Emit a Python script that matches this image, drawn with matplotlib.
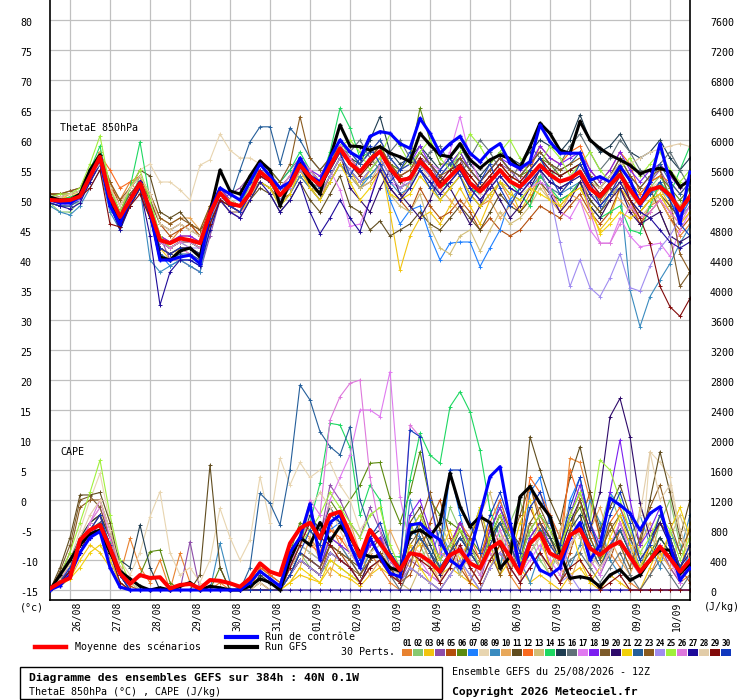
import matplotlib
matplotlib.use("Agg")
import matplotlib.pyplot as plt
from matplotlib.lines import Line2D
from matplotlib.patches import Rectangle
import matplotlib.transforms as mtransforms

plt.rcParams['font.family'] = ['DejaVu Sans Mono', 'DejaVu Sans']

# ---------------- data ----------------
dates = ["26/08", "27/08", "28/08", "29/08", "30/08", "31/08", "01/09", "02/09",
         "03/09", "04/09", "05/09", "06/09", "07/09", "08/09", "09/09", "10/09"]
date_idx = [2, 6, 10, 14, 18, 22, 26, 30, 34, 38, 42, 46, 50, 54, 58, 62]
theta_ticks = [-15, -10, -5, 0, 5, 10, 15, 20, 25, 30, 35, 40, 45, 50, 55, 60, 65, 70, 75, 80]
cape_ticks = [0, 400, 800, 1200, 1600, 2000, 2400, 2800, 3200, 3600, 4000, 4400, 4800,
              5200, 5600, 6000, 6400, 6800, 7200, 7600]

pert_colors = ["#E8822F", "#88C970", "#F2C40F", "#8E4DAA", "#B34E0C", "#5B8A0E", "#1E80FF",
               "#E8D5B0", "#3A8BBF", "#E8A85A", "#604C1E", "#FA6A1E", "#D2BE78", "#1ED862",
               "#1E3C50", "#607078", "#E07AF0", "#7C1EF0", "#7C5A2A", "#2E0A6A", "#F2D00A",
               "#245E9A", "#8A5A1E", "#A08CF0", "#A0F03C", "#DE78DC", "#1E0A9A", "#E2CCA8",
               "#820A0A", "#1038BE"]

theta_mean = [50.0, 49.9, 50.0, 50.6, 53.9, 57.2, 50.6, 47.2, 50.0, 52.8,
              48.3, 43.3, 42.8, 43.6, 43.3, 42.8, 47.8, 51.2, 49.4, 49.0,
              51.1, 54.7, 53.3, 50.8, 52.5, 55.8, 53.9, 52.5, 55.6, 58.6,
              56.1, 54.7, 56.7, 58.1, 55.3, 53.3, 53.6, 56.4, 54.7, 52.2,
              53.9, 55.6, 52.8, 51.4, 53.1, 55.0, 53.1, 52.2, 53.9, 55.8,
              54.2, 53.1, 53.6, 54.7, 51.9, 50.6, 52.5, 54.2, 51.7, 49.4,
              51.7, 52.2, 50.8, 48.3, 50.6]
theta_ctrl = [50, 49.5, 49.5, 50.5, 54, 57, 49, 46, 50, 53,
              48, 40, 40, 40.5, 40.8, 39.4, 48, 52, 51, 50,
              53, 56, 54, 52, 53, 57, 54, 53, 57, 60,
              58, 57, 60.6, 61.4, 61.1, 59.4, 58.6, 63.6, 61.1, 57.8,
              59.4, 60.6, 57.8, 56.4, 58.3, 59.4, 56.1, 55.3, 56.4, 62.5,
              59.7, 57.8, 57.8, 57.8, 53.3, 53.9, 53, 55.6, 53.3, 49.4,
              53, 59.4, 53, 46.1, 54.7]
theta_gfs = [50.5, 50, 50, 51, 55, 57.5, 50, 46, 50, 53,
             48, 40.5, 40, 41.5, 42, 40.5, 48, 55, 51.5, 51,
             54, 56.5, 55, 49, 53, 56, 53, 51, 57, 62.5,
             59, 58.9, 58.3, 58.9, 57.8, 57.2, 56.4, 61.1, 59.2, 57.5,
             57.2, 59.4, 56.7, 55.3, 56.7, 57.5, 56.9, 55.3, 58.9, 62.8,
             61.1, 58.3, 57.8, 63.1, 60, 58.6, 57.5, 56.7, 55.8, 54.4,
             55, 55.3, 54.7, 52.2, 53.3]

th01 = [50, 50, 50.5, 51, 54, 57, 52, 50, 53, 51, 47, 44, 43, 45, 46, 44, 48, 52, 50, 49,
        52, 55, 54, 51, 53, 56, 52, 50, 54, 57, 55, 53, 54, 56, 52, 50, 53, 55, 53, 50,
        52, 54, 51, 49, 50, 53, 50, 48, 50, 54, 52, 51, 53, 54, 50, 48, 51, 54, 50, 46,
        49, 50, 47, 44, 46]
th02 = [49.5, 48, 48, 50, 53, 58, 49, 46, 50, 54, 48, 42, 41, 42, 42, 41, 47, 50, 49, 48,
        52, 56, 54, 50, 52, 57, 55, 53, 56, 60, 57, 56, 58, 59, 55, 53, 52, 57, 56, 53,
        54, 57, 53, 52, 54, 56, 54, 53, 55, 57, 55, 53, 54, 55, 52, 50, 53, 55, 51, 49,
        52, 54, 51, 49, 52]
th03 = [50.5, 50, 51, 51, 55, 58, 51, 47, 50, 52, 48, 42, 40, 42, 41, 40, 46, 50, 48, 48,
        50, 53, 52, 49, 51, 55, 52, 51, 54, 57, 55, 52, 55, 57, 48, 38.3, 44, 47, 48, 46,
        49, 52, 49, 46, 50, 53, 52, 48, 51, 54, 52, 49, 51, 53, 48, 45, 47, 52, 50, 48,
        50, 52, 49, 47, 49]
th04 = [50, 50, 49.5, 50, 53, 56, 51, 48, 51, 53, 49, 44, 40, 40, 39, 38, 44, 50, 51, 52,
        54, 56, 55, 53, 55, 57, 55, 53, 55, 58, 56, 55, 57, 58, 56, 54, 55, 57, 56, 53,
        55, 57, 53, 52, 54, 56, 55, 53, 55, 57, 55, 54, 55, 56, 53, 51, 53, 56, 53, 50,
        53, 55, 52, 47, 50]
th05 = [51, 51, 51, 51.5, 55, 58, 53, 49, 52, 54, 50, 46, 44, 45, 46, 44, 49, 52, 50, 49,
        51, 53, 52, 50, 51, 54, 52, 50, 53, 56, 54, 52, 53, 55, 52, 50, 48, 52, 49, 47,
        48, 50, 48, 45, 47, 45, 44, 45, 47, 49, 48, 47, 49, 51, 48, 46, 48, 52, 49, 46,
        48, 50, 47, 45, 47]
th06 = [50, 49.5, 50, 51, 54, 57, 50, 47, 50, 53, 48, 43, 42, 43, 43, 42, 47, 51, 49, 49,
        51, 55, 53, 51, 53, 56, 54, 53, 56, 59, 57, 55, 57, 59, 56, 55, 57, 65.3, 60, 56,
        56, 58, 55, 53, 55, 57, 55, 54, 55, 57, 56, 54, 55, 56, 53, 52, 54, 56, 53, 51,
        53, 54, 52, 50, 52]
th07 = [49.5, 49, 49, 50, 53, 56, 49, 45.5, 49, 52, 47, 41, 39, 40, 40, 39, 46, 51, 49, 48,
        51, 54, 53, 50, 52, 55, 53, 51, 54, 57, 55, 53, 54, 56, 50, 46, 48.3, 49, 44, 40,
        42.8, 43, 43, 38.9, 42, 45, 50, 52, 53, 55, 53, 52, 53, 55, 51, 50, 52, 54, 51, 49,
        51, 52, 50, 47, 50]
th08 = [50.5, 50.5, 51, 51.5, 55, 57, 52, 49, 52, 55, 56, 53, 53, 51.7, 50, 55.8, 56.7, 61, 58.3, 57,
        57, 56, 55, 52, 54, 57, 55, 54, 56, 58, 56, 54, 56, 57, 54, 52, 53, 56, 53, 51,
        53, 55, 52, 50, 52, 54, 52, 51, 52, 55, 53, 52, 53, 54, 51, 50, 52, 54, 51, 49,
        52, 53, 50, 48, 51]
th09 = [49, 48, 47.5, 49, 52, 55, 48, 45, 49, 52, 40, 38, 39, 40, 39, 38, 45, 50, 48, 47,
        50, 53, 52, 49, 51, 54, 52, 50, 53, 56, 54, 52, 54, 56, 53, 51, 52, 55, 53, 50,
        52, 54, 51, 49, 51, 53, 51, 50, 52, 54, 52, 51, 52, 53, 50, 48, 51, 52, 35, 28.9,
        33.9, 36.7, 39.4, 42.8, 45.6]
th10 = [50, 50, 50.5, 51, 54.5, 58, 53, 50, 51, 53, 51, 47, 46, 47, 47, 45, 49, 52, 50, 49,
        52, 55, 54, 51, 53, 56, 54, 52, 55, 58, 56, 54, 56, 58, 55, 53, 54, 57, 55, 52,
        50, 48, 51, 53, 50, 47, 49, 52, 55, 53, 50, 48, 51, 50, 47, 49, 52, 50, 48, 51,
        53, 50, 47, 49, 51]
th11 = [51, 51, 51.5, 52, 55, 57, 52, 48, 52, 55, 54, 48, 47, 48, 46, 45, 47, 50, 49, 48,
        50, 52, 51, 48, 50, 53, 50, 48, 51, 54, 49, 48, 45, 46.5, 44, 45, 46, 48, 46, 45,
        47, 49, 47, 45, 48, 51, 49, 48, 50, 53, 51, 50, 51, 53, 50, 48, 50, 53, 50, 48,
        50, 51, 49, 47, 49]
th12 = [50, 50, 50.5, 51, 54.5, 57.5, 55, 52, 53, 54, 49, 44, 43, 44, 44, 43, 48, 52, 51, 50,
        52, 55, 54, 52, 54, 57, 55, 53, 56, 59, 57, 55, 57, 59, 56, 54, 55, 57, 55, 53,
        54, 56, 54, 52, 54, 56, 54, 53, 55, 59, 57, 56, 58, 59, 55, 53, 55, 58, 56, 51,
        53, 54, 53, 51, 53]
th13 = [50, 49.5, 50, 50.5, 54, 57, 50, 47, 50, 53, 48, 43, 42, 43, 42, 41, 46, 50, 48, 47,
        50, 54, 53, 50, 52, 55, 53, 51, 54, 57, 54, 52, 53, 56, 51, 49, 48, 51, 45.5, 42,
        41, 44, 45, 41.5, 45, 48, 46, 47, 49, 52, 50, 49, 51, 52, 49, 47, 50, 53, 50, 47,
        49, 51, 48, 46, 48]
th14 = [50, 50, 50.5, 51, 55, 59, 51, 47, 52, 59.7, 50, 44, 42, 43, 43, 42, 47, 51, 50, 49,
        53, 56, 55, 53, 55, 58, 55, 53, 58, 65.3, 62, 57, 58, 59, 55, 53, 54, 57, 55, 52,
        53, 55, 52, 51, 53, 55, 53, 51, 49, 54, 52, 50, 51, 53, 49, 47, 48, 49, 45, 44.5,
        49, 53, 51, 55, 59]
th15 = [50, 50, 50, 51, 54, 57, 50, 46, 50, 53, 48, 43, 42, 43, 43, 42, 47, 51, 49, 49,
        52, 56, 54, 51, 53, 57, 55, 53, 56, 59, 57, 56, 60, 63.9, 58, 56, 57, 59, 57, 55,
        57, 59, 56, 54, 56, 58, 57, 56, 58, 60, 59, 58, 60, 64.2, 60, 58, 59, 61, 58, 57,
        58, 60, 57, 55, 57]
th16 = [49.5, 49, 49, 50, 53, 56, 50, 46.5, 50, 53, 48, 42, 41, 42, 42, 41, 46, 50, 49, 48,
        51, 54, 53, 50, 52, 55, 53, 52, 55, 58, 58, 60, 57, 55, 58, 60, 57, 55, 58, 59,
        56, 54, 57, 60, 58, 55, 53, 56, 59, 57, 54, 56, 59, 61, 58, 55, 57, 60, 58, 55,
        53, 56, 58, 55, 52]
th17 = [50, 49.5, 49, 50, 53, 56, 49, 46, 49, 52, 47, 42, 41, 42, 41, 40, 46, 50, 48, 47,
        51, 54, 53, 51, 53, 56, 54, 52, 55, 51.7, 45.6, 46, 50, 56, 53, 52, 54, 57, 56, 55,
        58, 63.9, 57, 53, 55, 57, 55, 54, 52, 53, 52, 48, 47, 50, 45, 42.8, 42.8, 47, 44, 42.2,
        42.5, 42.8, 40.6, 45, 48]
th18 = [50, 50, 50, 51, 54, 57, 51, 48, 50, 53, 49, 44, 43, 44, 44, 43, 48, 52, 50, 49,
        52, 55, 54, 52, 54, 57, 55, 54, 57, 60, 58, 56, 58, 60, 57, 55, 56, 59, 56, 54,
        56, 58, 55, 53, 55, 57, 56, 55, 56, 59, 57, 56, 57, 58, 55, 53, 55, 58, 55, 53,
        55, 56, 54, 52, 54]
th19 = [51, 50.5, 51, 51.5, 54, 56, 51, 48, 51, 53, 50, 46, 45, 46, 45, 44, 48, 51, 50, 49,
        51, 54, 53, 51, 52, 55, 53, 51, 54, 57, 55, 53, 55, 57, 54, 52, 53, 56, 54, 51,
        53, 55, 52, 50, 52, 54, 52, 51, 53, 55, 53, 52, 53, 55, 52, 50, 52, 55, 52, 50,
        52, 48, 44, 35.6, 38]
th20 = [50, 49.5, 49.5, 50, 53.5, 56.5, 50, 47, 50, 52.5, 48, 43, 42, 43, 43, 42, 47, 51, 49, 49,
        51, 55, 53, 51, 53, 56, 54, 52, 55, 58, 52, 50, 48, 52, 55, 51, 49, 47, 50, 54,
        52, 49, 46, 49, 53, 50, 47, 49, 52, 55, 51, 48, 50, 53, 49, 47, 50, 52, 48, 46,
        47, 48, 44, 43, 44]
th21 = [50, 50, 50, 50.5, 54, 57, 50, 46, 49, 52, 47, 42, 41, 42, 42, 41, 46, 50, 48, 48,
        50, 53, 52, 49, 51, 55, 52, 50, 53, 56, 53, 50, 52, 55, 51, 50, 51, 54, 52, 50,
        52, 54, 51, 49, 51, 53, 51, 50, 52, 51, 50, 49, 51, 52, 49, 44.4, 46, 48, 47, 48,
        50, 51, 48, 46, 48]
th22 = [49.5, 49, 49, 50, 53, 56, 49, 45.5, 49, 52, 47, 41, 40, 41, 41, 40, 46, 51, 50, 55,
        59.7, 62.2, 62.2, 56, 62, 60, 57, 55, 57, 60, 58, 56, 58, 60, 57, 55, 56, 58, 56, 54,
        56, 57, 55, 53, 55, 57, 55, 54, 56, 58, 56, 55, 56, 58, 54, 52, 54, 57, 54, 52,
        54, 56, 53, 51, 53]
th23 = [51, 51, 51.5, 52, 55, 57.5, 53, 50, 52, 54, 51, 47, 46, 47, 46, 45, 49, 52, 51, 50,
        53, 56, 55, 53, 56, 63.9, 57, 55, 57, 59, 57, 55, 57, 59, 56, 54, 55, 58, 56, 54,
        55, 57, 55, 53, 55, 57, 55, 54, 56, 58, 56, 55, 56, 57, 54, 52, 54, 57, 54, 52,
        54, 55, 50, 41, 38]
th24 = [50, 49.5, 49.5, 50, 53, 56, 50, 47, 50, 53, 48, 43, 42, 43, 42, 42, 47, 50, 48, 48,
        51, 54, 53, 50, 52, 55, 53, 51, 54, 57, 55, 53, 55, 57, 54, 52, 53, 56, 54, 51,
        53, 55, 52, 50, 52, 54, 52, 51, 53, 55, 51, 43, 35.6, 40, 35.4, 33.9, 37, 41, 35.4, 34.8,
        39, 42, 44, 47, 49]
th25 = [50.5, 51, 51, 52, 56, 60.7, 52, 48, 52, 55, 50, 44, 42, 43, 43, 42, 47, 51, 50, 49,
        52, 56, 54, 52, 54, 57, 55, 53, 56, 59, 60, 58, 55, 57, 61, 59, 56, 58, 60, 57,
        55, 58, 61, 59, 56, 58, 60, 57, 54, 56, 59, 57, 54, 56, 58, 55, 53, 55, 57, 54,
        56, 58, 55, 53, 55]
th26 = [50, 49.5, 49.5, 50.5, 54, 57, 50, 47, 50, 53, 48, 43, 42, 43, 43, 42, 47, 51, 49, 48,
        51, 55, 54, 52, 54, 57, 55, 53, 56, 59, 57, 55, 57, 58, 55, 53, 54, 57, 55, 52,
        54, 56, 53, 51, 53, 55, 53, 52, 54, 56, 54, 53, 54, 55, 48, 42.8, 42.8, 46, 49, 47,
        48, 50, 48, 46, 49]
th27 = [49.5, 49, 48.5, 49.5, 53, 56, 49, 45, 49, 52, 44, 32.5, 38, 40, 40, 39, 45, 50, 48, 47,
        50, 53, 51, 48, 50, 53, 48, 44.4, 47, 50, 47, 44.7, 50, 55, 52, 50, 52, 55, 53, 51,
        53, 55, 52, 50, 52, 54, 52, 51, 53, 55, 53, 52, 53, 54, 51, 49, 51, 53, 50, 48,
        47, 45, 43, 42, 43]
th28 = [50.5, 50.5, 51, 51.5, 54, 56, 52, 49, 52, 54, 51, 46, 45, 46, 45, 44, 48, 51, 50, 49,
        52, 55, 54, 52, 53, 56, 54, 52, 55, 58, 56, 54, 56, 58, 55, 53, 54, 57, 55, 52,
        54, 56, 53, 51, 53, 55, 53, 52, 54, 56, 54, 53, 54, 55, 53, 52, 54, 56, 56, 57,
        58, 58.5, 59, 59.4, 58.9]
th29 = [50, 49.5, 50, 50.5, 52, 55, 46, 45.5, 49, 51, 47, 42, 41, 42, 42, 41, 46, 50, 49, 48,
        51, 54, 53, 51, 53, 56, 54, 52, 55, 58, 56, 54, 56, 58, 55, 53, 54, 57, 55, 53,
        55, 56, 54, 52, 54, 56, 54, 53, 55, 57, 55, 54, 55, 56, 53, 51, 53, 55, 50, 47,
        42.8, 35.6, 32.2, 30.6, 33.6]
th30 = [50, 49.5, 50, 50.5, 54, 57, 50, 46.5, 50, 53, 48, 42, 41, 42, 42, 41, 47, 51, 49, 48,
        51, 55, 53, 51, 53, 56, 54, 52, 55, 58, 54, 57, 59, 56, 53, 55, 58, 55, 52, 55,
        57, 54, 50, 53, 56, 52, 49, 52, 55, 57, 54, 51, 53, 56, 53, 49, 51, 54, 52, 49,
        51, 53, 50, 46, 44]

cape_mean = [20, 100, 160, 667, 800, 867, 560, 220, 80, 200, 160, 170, 20, 67, 80, 20, 133, 122, 89, 44,
             156, 356, 244, 200, 622, 822, 898, 689, 1000, 1044, 756, 444, 800, 622, 444, 267, 489, 467, 378, 244,
             467, 533, 356, 289, 556, 644, 444, 222, 622, 756, 489, 422, 733, 809, 556, 467, 578, 644, 444, 244,
             400, 578, 422, 244, 400]
cape_ctrl = [0, 60, 200, 500, 700, 780, 300, 40, 0, 0, 0, 0, 0, 0, 0, 0, 0, 0, 0, 0,
             100, 250, 150, 50, 500, 700, 1150, 400, 900, 1000, 600, 300, 693, 444, 222, 178, 867, 889, 756, 667,
             400, 300, 500, 1000, 1511, 1644, 900, 300, 500, 267, 200, 300, 700, 900, 400, 600, 1222, 1133, 1022, 800,
             1022, 1111, 600, 133, 300]
cape_gfs = [0, 200, 400, 600, 750, 800, 500, 250, 150, 50, 0, 30, 0, 50, 100, 0, 50, 30, 0, 0,
            50, 150, 100, 0, 400, 700, 600, 900, 650, 850, 700, 500, 444, 444, 300, 250, 756, 800, 711, 900,
            1556, 1111, 844, 978, 900, 289, 444, 1244, 1378, 1156, 978, 489, 156, 178, 150, 44, 200, 270, 130, 200,
            400, 533, 533, 222, 350]

cp01 = [0, 150, 300, 600, 800, 900, 600, 200, 689, 300, 100, 400, 0, 489, 100, 0, 0, 100, 0, 0,
        0, 200, 100, 0, 600, 800, 700, 500, 900, 600, 400, 200, 500, 300, 100, 0, 300, 200, 100, 0,
        200, 400, 100, 0, 300, 500, 200, 0, 1400, 1000, 700, 400, 1755, 1700, 1200, 700, 500, 300, 100, 0,
        200, 500, 300, 100, 200]
cp02 = [30, 200, 350, 700, 900, 1000, 700, 300, 0, 0, 0, 0, 0, 0, 0, 0, 0, 0, 0, 0,
        0, 0, 0, 0, 200, 500, 300, 200, 400, 300, 200, 100, 300, 400, 200, 100, 900, 600, 300, 500,
        1100, 800, 400, 200, 600, 300, 900, 1200, 700, 400, 200, 600, 1000, 700, 300, 800, 1300, 900, 500, 200,
        400, 900, 1200, 600, 300]
cp03 = [0, 80, 150, 400, 600, 500, 300, 100, 0, 0, 0, 0, 0, 0, 0, 0, 0, 0, 0, 0,
        0, 0, 0, 0, 100, 200, 150, 100, 300, 200, 150, 50, 200, 300, 200, 100, 500, 600, 800, 200,
        300, 200, 100, 0, 300, 600, 900, 300, 100, 200, 100, 0, 200, 300, 100, 0, 200, 100, 0, 0,
        300, 600, 400, 200, 900]
cp04 = [0, 100, 250, 500, 700, 800, 400, 100, 0, 0, 0, 0, 0, 0, 644, 0, 0, 0, 0, 0,
        0, 0, 0, 0, 300, 600, 1100, 700, 1400, 1200, 900, 700, 1100, 800, 300, 100, 400, 300, 200, 100,
        300, 500, 300, 100, 600, 900, 600, 200, 500, 700, 500, 300, 600, 800, 400, 200, 500, 900, 600, 200,
        400, 600, 300, 100, 400]
cp05 = [0, 120, 300, 500, 700, 800, 500, 200, 50, 0, 0, 0, 0, 0, 0, 0, 0, 0, 0, 0,
        0, 0, 0, 0, 200, 400, 300, 200, 600, 500, 300, 100, 400, 500, 200, 100, 200, 500, 900, 1200,
        700, 300, 100, 400, 900, 600, 200, 700, 1100, 800, 300, 100, 500, 900, 1300, 700, 400, 800, 500, 200,
        600, 1000, 700, 300, 100]
cp06 = [0, 150, 300, 600, 900, 1000, 700, 300, 100, 200, 511, 533, 100, 0, 0, 0, 0, 300, 0, 0,
        0, 300, 200, 100, 500, 900, 800, 600, 1200, 1000, 1200, 1400, 1689, 1700, 1222, 900, 1300, 1844, 1200, 1000,
        900, 800, 700, 500, 700, 900, 700, 400, 600, 800, 700, 500, 900, 1100, 700, 400, 600, 800, 500, 300,
        500, 700, 500, 300, 600]
cp07 = [0, 100, 200, 500, 700, 900, 500, 100, 0, 0, 0, 0, 0, 0, 0, 0, 0, 0, 0, 0,
        0, 0, 0, 0, 300, 600, 500, 400, 800, 900, 600, 300, 600, 700, 300, 200, 800, 700, 500, 300,
        1600, 1000, 500, 300, 700, 1200, 800, 300, 1300, 1500, 900, 500, 1200, 1500, 900, 400, 1300, 1100, 700, 300,
        700, 900, 600, 200, 500]
cp08 = [0, 200, 400, 800, 1200, 1555, 900, 400, 200, 500, 978, 1311, 500, 200, 300, 100, 400, 1089, 700, 400,
        667, 1511, 900, 1756, 1400, 1700, 1500, 1600, 1700, 1400, 1200, 800, 1000, 1100, 600, 300, 600, 500, 300, 200,
        400, 600, 300, 100, 400, 700, 400, 200, 500, 700, 500, 300, 600, 800, 500, 300, 500, 700, 400, 200,
        1844, 1700, 1500, 800, 500]
cp09 = [0, 100, 200, 500, 700, 800, 500, 200, 0, 0, 0, 0, 0, 0, 0, 0, 0, 622, 100, 0,
        0, 0, 0, 0, 200, 500, 400, 300, 700, 600, 400, 200, 500, 600, 300, 100, 1200, 700, 400, 800,
        500, 200, 700, 1100, 600, 300, 900, 400, 100, 500, 1000, 700, 300, 600, 1200, 900, 400, 200, 700, 1000,
        600, 300, 800, 500, 1000]
cp10 = [0, 150, 300, 600, 800, 900, 600, 200, 0, 0, 0, 0, 0, 0, 0, 0, 0, 0, 0, 0,
        0, 100, 0, 0, 100, 300, 700, 400, 200, 600, 900, 500, 200, 400, 800, 500, 300, 700, 400, 100,
        500, 900, 600, 300, 700, 1000, 500, 200, 600, 900, 700, 300, 100, 500, 800, 1100, 700, 400, 200, 600,
        900, 500, 300, 700, 400]
cp11 = [0, 300, 700, 1267, 1267, 1300, 900, 300, 0, 0, 0, 0, 0, 0, 0, 200, 1667, 300, 0, 0,
        0, 0, 0, 0, 200, 500, 400, 300, 600, 500, 400, 300, 500, 700, 400, 200, 900, 1100, 700, 400,
        600, 900, 600, 400, 800, 1100, 800, 600, 2044, 1600, 1200, 900, 1500, 1911, 1300, 800, 1100, 1400, 1000, 600,
        1200, 1844, 1300, 700, 1200]
cp12 = [0, 100, 300, 600, 900, 1000, 700, 300, 100, 0, 0, 0, 0, 0, 0, 0, 0, 0, 0, 0,
        0, 300, 200, 100, 400, 700, 600, 500, 800, 700, 500, 300, 600, 700, 400, 200, 800, 1000, 700, 400,
        600, 900, 700, 400, 900, 1200, 800, 500, 1500, 1300, 1000, 700, 1600, 1200, 800, 500, 900, 1100, 800, 400,
        600, 900, 700, 300, 600]
cp13 = [0, 150, 350, 700, 900, 1100, 700, 300, 100, 0, 0, 0, 0, 0, 0, 0, 0, 0, 0, 0,
        0, 0, 0, 0, 300, 600, 500, 400, 700, 600, 500, 300, 500, 600, 300, 100, 0, 300, 700, 900,
        600, 200, 500, 1000, 1300, 800, 300, 600, 900, 500, 200, 800, 1100, 700, 300, 500, 900, 600, 300, 1100,
        800, 400, 700, 1000, 600]
cp14 = [0, 100, 300, 600, 800, 900, 622, 200, 0, 0, 0, 0, 0, 0, 0, 0, 0, 0, 0, 0,
        0, 0, 0, 0, 400, 700, 900, 1422, 2222, 2200, 1900, 1000, 1400, 1200, 444, 444, 1467, 2089, 1800, 1689,
        2444, 2644, 2378, 1867, 1067, 700, 400, 200, 500, 700, 500, 300, 600, 800, 500, 300, 500, 700, 400, 200,
        400, 600, 400, 200, 400]
cp15 = [0, 200, 400, 700, 900, 1000, 700, 400, 300, 867, 300, 0, 0, 0, 0, 0, 0, 0, 0, 0,
        0, 200, 100, 0, 300, 600, 1000, 800, 1100, 900, 700, 400, 700, 800, 500, 300, 700, 900, 600, 300,
        500, 700, 500, 300, 700, 900, 600, 300, 700, 900, 700, 400, 800, 1000, 600, 300, 600, 800, 500, 200,
        400, 700, 500, 200, 400]
cp16 = [0, 100, 250, 500, 700, 800, 500, 200, 0, 0, 0, 0, 0, 0, 0, 0, 0, 0, 0, 0,
        0, 0, 0, 0, 200, 400, 300, 200, 500, 400, 300, 100, 300, 400, 200, 0, 300, 200, 100, 0,
        200, 400, 200, 0, 300, 500, 300, 100, 300, 500, 300, 100, 400, 500, 300, 100, 300, 500, 200, 0,
        200, 400, 200, 0, 200]
cp17 = [0, 150, 300, 600, 900, 1100, 700, 300, 0, 0, 0, 0, 0, 0, 0, 0, 0, 0, 0, 0,
        0, 0, 0, 0, 300, 600, 900, 700, 1200, 1500, 1800, 2400, 2400, 2311, 2911, 1244, 600, 400, 200, 100,
        300, 500, 300, 100, 400, 700, 400, 200, 400, 600, 400, 200, 600, 800, 400, 200, 600, 900, 500, 200,
        400, 600, 400, 100, 300]
cp18 = [0, 100, 250, 500, 700, 900, 500, 200, 0, 0, 0, 0, 0, 0, 0, 0, 0, 0, 0, 0,
        0, 0, 0, 0, 300, 500, 400, 300, 700, 600, 500, 300, 600, 700, 400, 200, 1000, 1200, 800, 400,
        600, 900, 600, 300, 800, 1100, 700, 300, 700, 900, 600, 400, 1000, 1400, 900, 600, 1300, 2000, 1200, 600,
        800, 1100, 700, 300, 600]
cp19 = [0, 250, 600, 1200, 1250, 1100, 700, 300, 0, 0, 0, 0, 0, 0, 0, 0, 0, 0, 0, 0,
        0, 100, 0, 0, 300, 500, 400, 300, 600, 500, 400, 200, 400, 500, 300, 100, 600, 800, 500, 300,
        500, 800, 500, 300, 700, 1000, 700, 400, 900, 1100, 800, 600, 1000, 1300, 900, 500, 800, 1000, 700, 400,
        600, 900, 700, 300, 600]
cp20 = [0, 100, 250, 500, 700, 800, 500, 200, 0, 0, 0, 0, 0, 0, 0, 0, 0, 0, 0, 0,
        0, 0, 0, 0, 200, 400, 300, 200, 500, 400, 300, 100, 400, 500, 300, 100, 500, 700, 500, 200,
        400, 700, 500, 300, 700, 1000, 700, 400, 800, 1000, 800, 500, 900, 1200, 800, 1300, 2311, 2555, 2044, 1156,
        700, 900, 600, 300, 500]
cp21 = [0, 50, 150, 300, 500, 600, 400, 100, 0, 0, 0, 0, 0, 0, 0, 0, 0, 0, 0, 0,
        0, 0, 0, 0, 100, 300, 200, 100, 400, 300, 200, 100, 300, 400, 200, 100, 600, 300, 100, 500,
        800, 400, 700, 1100, 600, 200, 400, 900, 1200, 700, 300, 600, 900, 400, 100, 300, 700, 1000, 600, 300,
        600, 400, 800, 1100, 700]
cp22 = [0, 150, 300, 600, 800, 900, 600, 300, 100, 0, 0, 0, 0, 0, 0, 0, 0, 0, 0, 0,
        300, 1289, 1156, 867, 1600, 2733, 2533, 2111, 1911, 1800, 2178, 1200, 800, 600, 400, 200, 500, 700, 500, 300,
        500, 700, 500, 300, 600, 900, 600, 300, 600, 800, 600, 400, 700, 900, 600, 300, 600, 800, 500, 200,
        400, 600, 400, 200, 400]
cp23 = [0, 200, 500, 1100, 1200, 1200, 800, 300, 0, 0, 0, 0, 0, 0, 0, 0, 0, 0, 0, 0,
        0, 0, 0, 0, 200, 400, 300, 200, 500, 400, 300, 200, 400, 500, 300, 100, 300, 900, 1300, 800,
        400, 300, 700, 1000, 500, 200, 600, 1000, 1400, 900, 500, 300, 800, 1200, 700, 400, 900, 600, 300, 700,
        1100, 1400, 900, 500, 800]
cp24 = [0, 100, 200, 500, 700, 800, 500, 200, 0, 0, 0, 0, 0, 0, 0, 0, 0, 0, 0, 0,
        0, 0, 0, 0, 200, 400, 300, 200, 500, 400, 300, 100, 300, 400, 200, 100, 300, 200, 100, 0,
        200, 400, 200, 0, 300, 500, 300, 100, 300, 500, 300, 100, 200, 0, 0, 0, 0, 0, 0, 0,
        0, 0, 0, 0, 0]
cp25 = [0, 200, 500, 900, 1300, 1733, 1000, 400, 100, 0, 0, 0, 0, 0, 0, 0, 0, 0, 0, 0,
        0, 0, 0, 0, 300, 600, 800, 1000, 1300, 1100, 900, 700, 1000, 1100, 600, 300, 800, 1000, 700, 400,
        600, 800, 600, 300, 700, 1000, 700, 400, 800, 1000, 800, 500, 1000, 1300, 900, 1733, 1600, 1200, 800, 500,
        700, 1000, 800, 400, 700]
cp26 = [0, 150, 300, 600, 900, 1200, 700, 300, 0, 0, 0, 0, 0, 0, 0, 0, 0, 0, 0, 0,
        0, 0, 0, 0, 300, 700, 1200, 1000, 2266, 2578, 2756, 2800, 1500, 800, 400, 200, 2200, 2044, 1200, 500,
        400, 600, 400, 200, 500, 800, 500, 200, 500, 700, 500, 300, 600, 800, 500, 300, 500, 700, 400, 200,
        400, 600, 400, 200, 400]
cp27 = [0, 100, 200, 500, 700, 800, 500, 200, 0, 0, 0, 0, 0, 0, 0, 0, 0, 0, 0, 0,
        0, 0, 0, 0, 0, 0, 0, 0, 0, 0, 0, 0, 0, 0, 0, 0, 0, 0, 0, 0,
        0, 0, 0, 0, 0, 0, 0, 0, 0, 0, 0, 0, 0, 0, 0, 0, 0, 0, 0, 0,
        0, 0, 0, 0, 0]
cp28 = [0, 150, 350, 700, 1000, 1200, 800, 300, 100, 0, 0, 0, 0, 0, 0, 0, 0, 0, 0, 0,
        0, 100, 0, 0, 300, 500, 1100, 1300, 1100, 800, 500, 300, 500, 600, 300, 200, 500, 400, 300, 100,
        300, 500, 300, 100, 400, 700, 400, 200, 500, 700, 500, 300, 600, 800, 500, 300, 500, 700, 400, 1000,
        1844, 1200, 1400, 800, 400]
cp29 = [0, 100, 250, 500, 800, 1000, 500, 100, 0, 0, 0, 0, 0, 0, 0, 0, 0, 0, 0, 0,
        0, 0, 0, 0, 300, 600, 900, 700, 600, 400, 300, 100, 300, 400, 200, 100, 500, 400, 300, 100,
        300, 600, 300, 100, 400, 600, 300, 100, 300, 500, 300, 100, 300, 400, 200, 0, 100, 200, 0, 0,
        0, 0, 0, 0, 0]
cp30 = [0, 100, 300, 600, 800, 1000, 600, 200, 0, 0, 0, 0, 0, 0, 0, 0, 0, 0, 0, 0,
        0, 0, 0, 0, 200, 500, 800, 600, 1000, 900, 600, 400, 700, 900, 500, 300, 2133, 2044, 1200, 600,
        1600, 1600, 900, 500, 1000, 1300, 900, 500, 1100, 1300, 900, 600, 1100, 1500, 900, 500, 1000, 1300, 900, 400,
        600, 1000, 700, 300, 600]

theta_perts = [th01, th02, th03, th04, th05, th06, th07, th08, th09, th10, th11, th12, th13, th14, th15,
               th16, th17, th18, th19, th20, th21, th22, th23, th24, th25, th26, th27, th28, th29, th30]
cape_perts = [cp01, cp02, cp03, cp04, cp05, cp06, cp07, cp08, cp09, cp10, cp11, cp12, cp13, cp14, cp15,
              cp16, cp17, cp18, cp19, cp20, cp21, cp22, cp23, cp24, cp25, cp26, cp27, cp28, cp29, cp30]

# ---------------- figure ----------------
W, H = 740, 700
fig = plt.figure(figsize=(W / 100, H / 100), dpi=100)
fig.patch.set_facecolor("white")


def fx(x):
    return x / W


def fy(y):
    return 1 - y / H


ax = fig.add_axes([fx(50), fy(600), 640 / W, 600 / H])
ax.set_xlim(0, 64)
ax.set_ylim(-15 - 10 / 6, 80 + 20 / 6)
ax.set_xticks([])
ax.set_yticks([])
for v in theta_ticks:
    ax.axhline(v, color="#c0c0c0", lw=0.9, zorder=0)
for i in date_idx:
    ax.axvline(i, color="#c0c0c0", lw=0.9, zorder=0)
ax.spines["top"].set_visible(False)
for s in ("left", "right", "bottom"):
    ax.spines[s].set_color("black")
    ax.spines[s].set_linewidth(1.2)

CAPE_SCALE = 80.0  # J/kg per degree on the left scale


def cape_to_axis(vals):
    return [-15 + c / CAPE_SCALE for c in vals]


xs = list(range(len(theta_mean)))
for col, th, cp in zip(pert_colors, theta_perts, cape_perts):
    ax.plot(xs, th, color=col, lw=0.8, marker="+", ms=3.2, mew=0.7, zorder=2)
    ax.plot(xs, cape_to_axis(cp), color=col, lw=0.8, marker="+", ms=3.2, mew=0.7, zorder=2)

ax.plot(xs, theta_gfs, color="black", lw=2.2, marker="+", ms=3, zorder=4)
ax.plot(xs, cape_to_axis(cape_gfs), color="black", lw=2.2, marker="+", ms=3, zorder=4)
ax.plot(xs, theta_ctrl, color="#0000ff", lw=2.2, marker="+", ms=3, zorder=5)
ax.plot(xs, cape_to_axis(cape_ctrl), color="#0000ff", lw=2.2, marker="+", ms=3, zorder=5)
ax.plot(xs, theta_mean, color="#ff0000", lw=2.9, zorder=6)
ax.plot(xs, cape_to_axis(cape_mean), color="#ff0000", lw=2.9, zorder=6)

tfd = mtransforms.blended_transform_factory(fig.transFigure, ax.transData)
ax.text(fx(60), 80 - (128 - 20) / 6, "ThetaE 850hPa", transform=tfd,
        ha="left", va="center", fontsize=7.2, zorder=10)
ax.text(fx(60), 80 - (452 - 20) / 6, "CAPE", transform=tfd,
        ha="left", va="center", fontsize=7.2, zorder=10)

# y tick labels
off = mtransforms.ScaledTranslation(0, -3 / 100, fig.dpi_scale_trans)
tl = tfd + off
for v, c in zip(theta_ticks, cape_ticks):
    fig.text(fx(20), v, str(v), transform=tl, ha="left", va="center", fontsize=7.2)
    fig.text(fx(710), (c / CAPE_SCALE) - 15, str(c), transform=tl, ha="left", va="center", fontsize=7.2)

# date labels
td = mtransforms.blended_transform_factory(ax.transData, fig.transFigure)
for i, d in zip(date_idx, dates):
    fig.text(i + 0.7, fy(602), d, transform=td, rotation=90, ha="center", va="top", fontsize=7.0)

fig.text(fx(20), fy(607), "(°c)", ha="left", va="center", fontsize=7.2)
fig.text(fx(704), fy(607), "(J/kg)", ha="left", va="center", fontsize=7.2)

# legend
fig.add_artist(Line2D([fx(35), fx(66)], [fy(647), fy(647)], color="#ff0000", lw=3.2, transform=fig.transFigure))
fig.text(fx(75), fy(647), "Moyenne des scénarios", ha="left", va="center", fontsize=7.2)
fig.add_artist(Line2D([fx(226), fx(257)], [fy(637), fy(637)], color="#0000ff", lw=3.0, transform=fig.transFigure))
fig.text(fx(265), fy(637), "Run de contrôle", ha="left", va="center", fontsize=7.2)
fig.add_artist(Line2D([fx(226), fx(257)], [fy(647), fy(647)], color="black", lw=3.0, transform=fig.transFigure))
fig.text(fx(265), fy(647), "Run GFS", ha="left", va="center", fontsize=7.2)
fig.text(fx(395), fy(652), "30 Perts.", ha="right", va="center", fontsize=7.2)
for k, col in enumerate(pert_colors):
    x0 = 402 + 11 * k
    fig.add_artist(Rectangle((fx(x0), fy(656)), 10 / W, 7 / H, facecolor=col, edgecolor="none",
                             transform=fig.transFigure))
    fig.text(fx(x0 + 5), fy(644), "%02d" % (k + 1), ha="center", va="center", fontsize=5.6,
             fontweight="bold")

# bottom box
fig.add_artist(Rectangle((fx(20), fy(699)), 422 / W, 32 / H, facecolor="none", edgecolor="black", lw=1.0,
                         transform=fig.transFigure))
fig.text(fx(29), fy(678), "Diagramme des ensembles GEFS sur 384h : 40N 0.1W", ha="left", va="center",
         fontsize=8.2, fontweight="bold")
fig.text(fx(29), fy(692), "ThetaE 850hPa (°C) , CAPE (J/kg)", ha="left", va="center", fontsize=7.2)
fig.text(fx(452), fy(672), "Ensemble GEFS du 25/08/2026 - 12Z", ha="left", va="center", fontsize=7.2)
fig.text(fx(452), fy(692), "Copyright 2026 Meteociel.fr", ha="left", va="center", fontsize=8.2,
         fontweight="bold")

fig.savefig("out.png", dpi=100, facecolor="white")
